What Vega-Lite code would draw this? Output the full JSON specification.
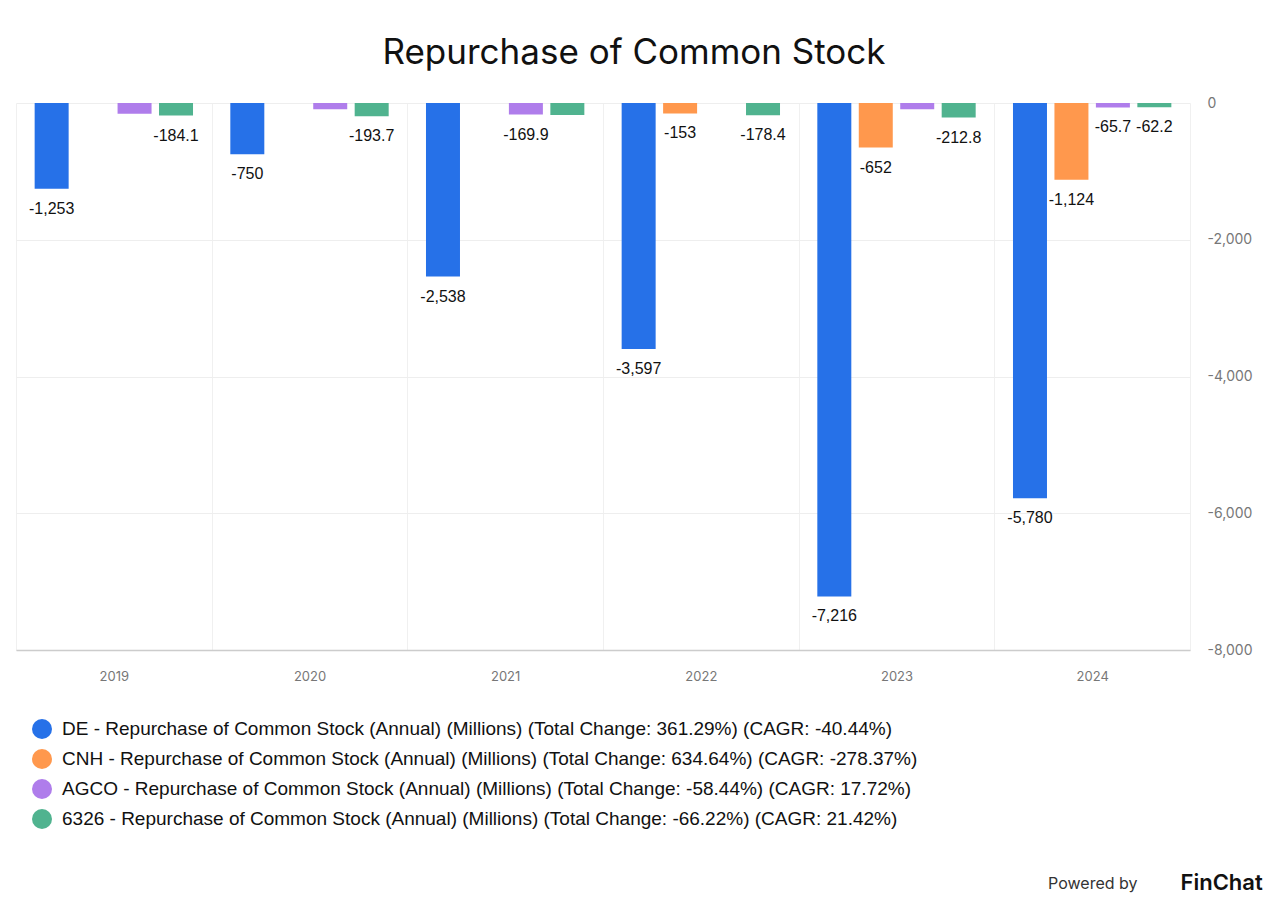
{
  "$schema": "https://vega.github.io/schema/vega-lite/v6.json",
  "width": 1174,
  "height": 547,
  "autosize": {"type": "none"},
  "padding": {"left": 16, "top": 103, "right": 90, "bottom": 257},
  "background": "white",
  "title": {
    "text": "Repurchase of Common Stock",
    "anchor": "middle",
    "frame": "group",
    "dx": 31,
    "offset": 25,
    "fontSize": 35,
    "font": "Inter",
    "fontWeight": "normal",
    "color": "#111111"
  },
  "config": {
    "view": {"stroke": null},
    "locale": {
      "number": {
        "decimal": ".",
        "thousands": ",",
        "grouping": [3],
        "currency": ["$", ""],
        "minus": "-"
      }
    }
  },
  "data": {
    "values": [
      {"year": "2019", "ticker": "DE", "value": -1253},
      {"year": "2019", "ticker": "AGCO", "value": -158.1},
      {"year": "2019", "ticker": "6326", "value": -184.1},
      {"year": "2020", "ticker": "DE", "value": -750},
      {"year": "2020", "ticker": "AGCO", "value": -92},
      {"year": "2020", "ticker": "6326", "value": -193.7},
      {"year": "2021", "ticker": "DE", "value": -2538},
      {"year": "2021", "ticker": "AGCO", "value": -169.9},
      {"year": "2021", "ticker": "6326", "value": -176},
      {"year": "2022", "ticker": "DE", "value": -3597},
      {"year": "2022", "ticker": "CNH", "value": -153},
      {"year": "2022", "ticker": "6326", "value": -178.4},
      {"year": "2023", "ticker": "DE", "value": -7216},
      {"year": "2023", "ticker": "CNH", "value": -652},
      {"year": "2023", "ticker": "AGCO", "value": -92},
      {"year": "2023", "ticker": "6326", "value": -212.8},
      {"year": "2024", "ticker": "DE", "value": -5780},
      {"year": "2024", "ticker": "CNH", "value": -1124},
      {"year": "2024", "ticker": "AGCO", "value": -65.7},
      {"year": "2024", "ticker": "6326", "value": -62.2}
    ]
  },
  "encoding": {
    "x": {
      "field": "year",
      "type": "nominal",
      "scale": {"paddingInner": 0, "paddingOuter": 0},
      "axis": {
        "orient": "bottom",
        "labelAngle": 0,
        "domain": true,
        "domainColor": "#cccccc",
        "domainWidth": 1.5,
        "ticks": false,
        "tickBand": "extent",
        "grid": true,
        "gridColor": "#f0f0f0",
        "gridWidth": 1,
        "labelPadding": 20,
        "labelFont": "Inter",
        "labelFontSize": 13,
        "labelColor": "#777777",
        "title": "Powered by",
        "titleX": 1121,
        "titleY": 238,
        "titleAlign": "right",
        "titleAngle": 0,
        "titleBaseline": "alphabetic",
        "titleFont": "Inter",
        "titleFontSize": 16,
        "titleFontWeight": "normal",
        "titleColor": "#333333"
      }
    },
    "xOffset": {
      "field": "ticker",
      "type": "nominal",
      "sort": ["DE", "CNH", "AGCO", "6326"],
      "scale": {"paddingInner": 0.18, "paddingOuter": 0.45}
    },
    "y": {
      "field": "value",
      "type": "quantitative",
      "scale": {"domain": [-8000, 0], "nice": false},
      "axis": {
        "orient": "right",
        "values": [0, -2000, -4000, -6000, -8000],
        "format": ",.0f",
        "grid": true,
        "gridColor": "#eeeeee",
        "domain": false,
        "ticks": false,
        "labelPadding": 17,
        "labelFont": "Inter",
        "labelFontSize": 14,
        "labelColor": "#777777",
        "title": "FinChat",
        "titleX": -10,
        "titleY": 786,
        "titleAngle": 0,
        "titleAlign": "left",
        "titleBaseline": "alphabetic",
        "titleFont": "Inter",
        "titleFontSize": 22,
        "titleFontWeight": 600,
        "titleColor": "#111111"
      }
    }
  },
  "layer": [
    {
      "mark": {"type": "bar"},
      "encoding": {
        "color": {
          "field": "ticker",
          "type": "nominal",
          "sort": ["DE", "CNH", "AGCO", "6326"],
          "scale": {
            "domain": ["DE", "CNH", "AGCO", "6326"],
            "range": ["#2671E8", "#FF984D", "#AF7DEB", "#50B38F"]
          },
          "legend": {
            "orient": "none",
            "legendX": 16,
            "legendY": 616,
            "title": null,
            "symbolType": "circle",
            "symbolSize": 400,
            "symbolOpacity": 1,
            "symbolStrokeWidth": 0,
            "rowPadding": 10,
            "labelOffset": 10,
            "labelLimit": 0,
            "labelFont": "Liberation Sans",
            "labelFontSize": 19,
            "labelColor": "#111111",
            "labelExpr": "datum.label == 'DE' ? 'DE - Repurchase of Common Stock (Annual) (Millions) (Total Change: 361.29%) (CAGR: -40.44%)' : datum.label == 'CNH' ? 'CNH - Repurchase of Common Stock (Annual) (Millions) (Total Change: 634.64%) (CAGR: -278.37%)' : datum.label == 'AGCO' ? 'AGCO - Repurchase of Common Stock (Annual) (Millions) (Total Change: -58.44%) (CAGR: 17.72%)' : '6326 - Repurchase of Common Stock (Annual) (Millions) (Total Change: -66.22%) (CAGR: 21.42%)'"
          }
        }
      }
    },
    {
      "transform": [
        {"filter": "!(datum.ticker == 'AGCO' && datum.year != '2024' && datum.year != '2021') && !(datum.ticker == '6326' && datum.year == '2021')"}
      ],
      "mark": {
        "type": "text",
        "baseline": "middle",
        "align": "center",
        "dy": 20,
        "font": "Liberation Sans",
        "fontSize": 16,
        "color": "#111111"
      },
      "encoding": {
        "text": {"field": "value", "type": "quantitative", "format": ",.1~f"}
      }
    }
  ]
}
